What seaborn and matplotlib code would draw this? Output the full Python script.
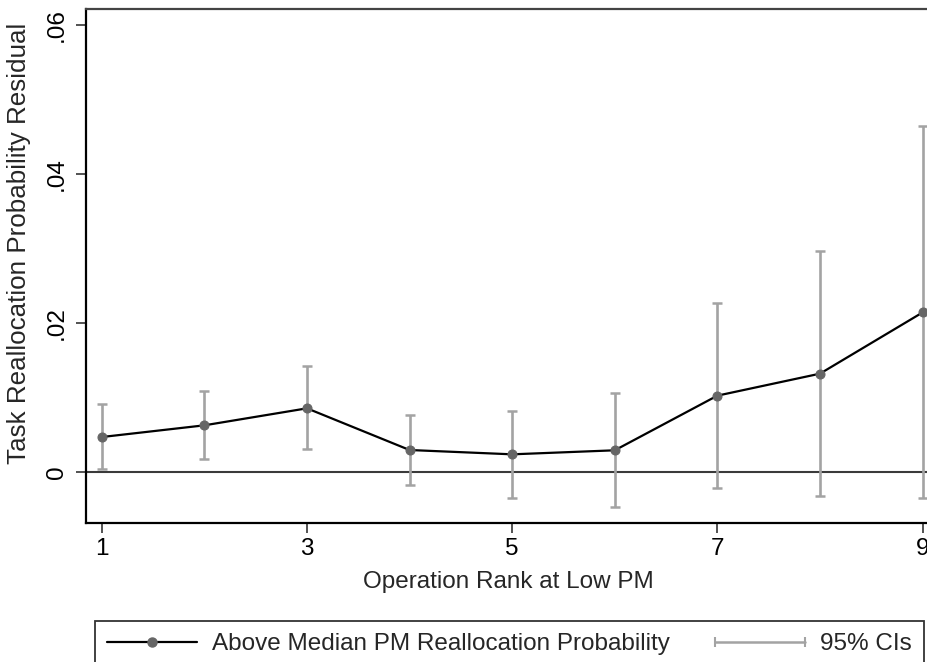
import matplotlib
matplotlib.use("Agg")
import matplotlib.pyplot as plt
from matplotlib.lines import Line2D
from matplotlib.legend_handler import HandlerLine2D
import seaborn as sns
import pandas as pd

# Data
rank = [1, 2, 3, 4, 5, 6, 7, 8, 9]
estimate = [0.00469, 0.00626, 0.00854, 0.00295, 0.00237, 0.00291, 0.01024, 0.01319, 0.0214]
ci_upper = [0.00907, 0.01081, 0.01416, 0.00769, 0.00823, 0.01059, 0.02265, 0.02958, 0.04642]
ci_lower = [0.00036, 0.00170, 0.00304, -0.00178, -0.00343, -0.00473, -0.00218, -0.00326, -0.00352]
x_ticks = [1, 3, 5, 7, 9]
y_ticks = [0, 0.02, 0.04, 0.06]
y_ticklabels = ["0", ".02", ".04", ".06"]

df = pd.DataFrame({"rank": rank, "estimate": estimate,
                   "lo": ci_lower, "hi": ci_upper})

sns.set_theme(style="white")
plt.rcParams["font.family"] = ["Liberation Sans", "DejaVu Sans"]

fig = plt.figure(figsize=(9.28, 6.62), dpi=100)
ax = fig.add_axes([86 / 928, 1 - 522.7 / 662, (928 - 86) / 928 + 0.003, (522.7 - 9) / 662])

ci_color = "#a3a3a3"
marker_color = "#666666"
# confidence intervals
yerr = [df["estimate"] - df["lo"], df["hi"] - df["estimate"]]
ax.errorbar(df["rank"], df["estimate"], yerr=yerr, fmt="none", ecolor=ci_color,
            elinewidth=1.9, capsize=3.3, capthick=1.8, zorder=2)

# zero reference line
ax.axhline(0, color="#3a3a3a", lw=1.5, zorder=1)

# main estimate line
sns.lineplot(data=df, x="rank", y="estimate", ax=ax, color="black", lw=1.6,
             marker="o", markersize=6.5, markerfacecolor=marker_color,
             markeredgecolor=marker_color, zorder=3, legend=False)

ax.set_xlim(0.8465, 9.08)
ax.set_ylim(-0.0068, 0.0621)
ax.set_xticks(x_ticks)
ax.set_xticklabels([str(t) for t in x_ticks])
ax.set_yticks(y_ticks)
ax.set_yticklabels(y_ticklabels, rotation=90, va="center")

ax.tick_params(axis="both", which="major", direction="out", length=7, width=1.3,
               color="#444444", labelsize=17.5, labelcolor="black",
               bottom=True, left=True)
ax.tick_params(axis="y", pad=6)
ax.tick_params(axis="x", pad=4)

for side in ["left", "bottom", "top"]:
    ax.spines[side].set_visible(True)
    ax.spines[side].set_color("black")
    ax.spines[side].set_linewidth(1.6)
ax.spines["top"].set_color("#444444")
ax.spines["right"].set_visible(False)

ax.set_xlabel("Operation Rank at Low PM", fontsize=17.5, labelpad=8)
ax.set_ylabel("Task Reallocation Probability Residual", fontsize=18.7)
ax.yaxis.set_label_coords(-(86 - 31) / 842, 1 - (243.5 - 9) / 513.7)

# legend
h1 = Line2D([0], [0], color="black", lw=1.6, marker="o", markersize=6.5,
            markerfacecolor=marker_color, markeredgecolor=marker_color)
h2 = Line2D([0, 1], [0, 0], color=ci_color, lw=1.8, marker="|", markersize=7,
            markeredgewidth=1.5, markeredgecolor=ci_color)
leg = fig.legend([h1, h2],
                 ["Above Median PM Reallocation Probability", "95% CIs"],
                 handler_map={h2: HandlerLine2D(numpoints=2, marker_pad=0)},
                 loc="lower left", bbox_to_anchor=(95 / 928, -0.008, 829 / 928, 0.07),
                 mode="expand", ncol=2, fontsize=17.5, frameon=True, fancybox=False,
                 borderaxespad=0, handlelength=3.7, handletextpad=0.62,
                 columnspacing=1.9, borderpad=0.5)
leg.get_frame().set_edgecolor("black")
leg.get_frame().set_linewidth(1.3)

fig.savefig("out.png", dpi=100)
